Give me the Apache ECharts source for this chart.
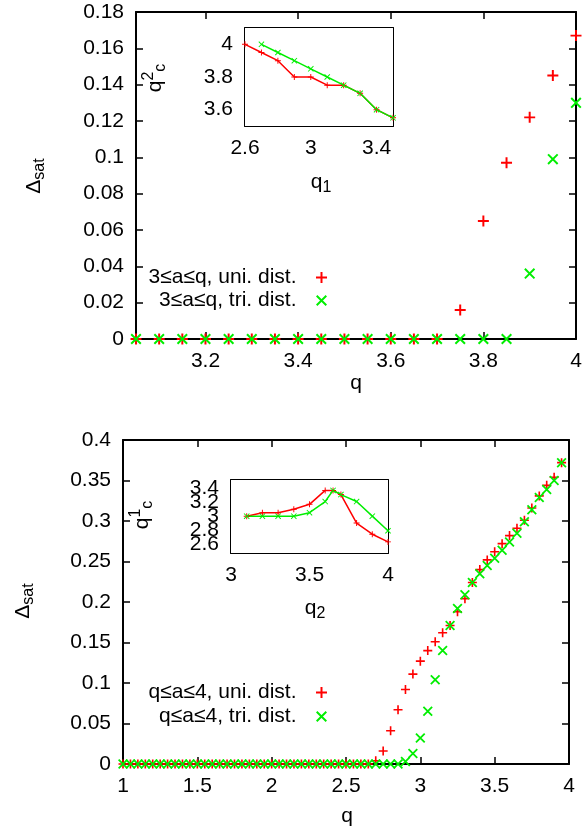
<!DOCTYPE html>
<html>
<head>
<meta charset="utf-8">
<script src="https://cdn.jsdelivr.net/npm/echarts@6/dist/echarts.min.js"></script>
<style>
html, body { margin: 0; padding: 0; background: #fff; }
#main { width: 582px; height: 835px; }
</style>
</head>
<body>
<div id="main"></div>
<script>
// top panel: 3<=a<=q
var qTop = [3.05, 3.10, 3.15, 3.20, 3.25, 3.30, 3.35, 3.40, 3.45, 3.50,
            3.55, 3.60, 3.65, 3.70, 3.75, 3.80, 3.85, 3.90, 3.95, 4.00];
var topUni = [0, 0, 0, 0, 0, 0, 0, 0, 0, 0,
              0, 0, 0, 0, 0.016, 0.065, 0.097, 0.122, 0.145, 0.167];
var topTri = [0, 0, 0, 0, 0, 0, 0, 0, 0, 0,
              0, 0, 0, 0, 0, 0, 0, 0.036, 0.099, 0.130];

// top inset: q_c^2 vs q_1
var q1Uni = [2.6, 2.7, 2.8, 2.9, 3.0, 3.1, 3.2, 3.3, 3.4, 3.5];
var qc2Uni = [4.0, 3.95, 3.9, 3.8, 3.8, 3.75, 3.75, 3.7, 3.6, 3.55];
var q1Tri = [2.7, 2.8, 2.9, 3.0, 3.1, 3.2, 3.3, 3.4, 3.5];
var qc2Tri = [4.0, 3.95, 3.9, 3.85, 3.8, 3.75, 3.7, 3.6, 3.55];

// bottom panel: q<=a<=4
var qBot = [1.00, 1.05, 1.10, 1.15, 1.20, 1.25, 1.30, 1.35, 1.40, 1.45,
            1.50, 1.55, 1.60, 1.65, 1.70, 1.75, 1.80, 1.85, 1.90, 1.95,
            2.00, 2.05, 2.10, 2.15, 2.20, 2.25, 2.30, 2.35, 2.40, 2.45,
            2.50, 2.55, 2.60, 2.65, 2.70, 2.75, 2.80, 2.85, 2.90, 2.95,
            3.00, 3.05, 3.10, 3.15, 3.20, 3.25, 3.30, 3.35, 3.40, 3.45,
            3.50, 3.55, 3.60, 3.65, 3.70, 3.75, 3.80, 3.85, 3.90, 3.95];
var botUni = [0, 0, 0, 0, 0, 0, 0, 0, 0, 0,
              0, 0, 0, 0, 0, 0, 0, 0, 0, 0,
              0, 0, 0, 0, 0, 0, 0, 0, 0, 0,
              0, 0, 0, 0, 0.004, 0.016, 0.041, 0.067, 0.092, 0.111,
              0.127, 0.140, 0.151, 0.162, 0.171, 0.188, 0.204, 0.224, 0.240, 0.252,
              0.262, 0.272, 0.282, 0.291, 0.301, 0.316, 0.331, 0.344, 0.354, 0.372];
var botTri = [0, 0, 0, 0, 0, 0, 0, 0, 0, 0,
              0, 0, 0, 0, 0, 0, 0, 0, 0, 0,
              0, 0, 0, 0, 0, 0, 0, 0, 0, 0,
              0, 0, 0, 0, 0, 0, 0, 0, 0.003, 0.013,
              0.032, 0.065, 0.104, 0.140, 0.171, 0.192, 0.209, 0.224, 0.235, 0.245,
              0.254, 0.264, 0.274, 0.285, 0.299, 0.314, 0.329, 0.339, 0.350, 0.372];

// bottom inset: q_c^1 vs q_2
var q2Uni = [3.1, 3.2, 3.3, 3.4, 3.5, 3.6, 3.65, 3.7, 3.8, 3.9, 4.0];
var qc1Uni = [3.0, 3.05, 3.05, 3.1, 3.17, 3.37, 3.37, 3.31, 2.9, 2.74, 2.63];
var q2Tri = [3.1, 3.2, 3.3, 3.4, 3.5, 3.6, 3.65, 3.7, 3.8, 3.9, 4.0];
var qc1Tri = [3.0, 3.0, 3.0, 3.0, 3.05, 3.21, 3.37, 3.31, 3.21, 3.0, 2.79];

// tick labels
var topXTicks = [3.2, 3.4, 3.6, 3.8, 4];
var topYTicks = [0, 0.02, 0.04, 0.06, 0.08, 0.1, 0.12, 0.14, 0.16, 0.18];
var in1XTicks = [2.6, 3, 3.4];
var in1YTicks = [3.6, 3.8, 4];
var botXTicks = [1, 1.5, 2, 2.5, 3, 3.5, 4];
var botYTicks = [0, 0.05, 0.1, 0.15, 0.2, 0.25, 0.3, 0.35, 0.4];
var in2XTicks = [3, 3.5, 4];
var in2YTicks = [2.6, 2.8, 3, 3.2, 3.4];
// the inset's labels overlap each other, so they are split over two axes
var in2YLabelsA = [2.6, 3, 3.4];
var in2YLabelsB = [2.8, 3.2];

var legTop = ['3≤a≤q, uni. dist.', '3≤a≤q, tri. dist.'];
var legBot = ['q≤a≤4, uni. dist.', 'q≤a≤4, tri. dist.'];

var FONT = 'Liberation Sans';
var FS = 21;
var RED = '#ff0000';
var GREEN = '#00ee00';
var PLUS = 'path://M4.1,0H5.9V4.1H10V5.9H5.9V10H4.1V5.9H0V4.1H4.1Z';
var CROSS = 'path://M0,1.27L1.27,0L10,8.73L8.73,10Z M8.73,0L10,1.27L1.27,10L0,8.73Z';
var PLUS_S = 'path://M4.2,0H5.8V4.2H10V5.8H5.8V10H4.2V5.8H0V4.2H4.2Z';
var CROSS_S = 'path://M0,1.1L1.1,0L10,8.9L8.9,10Z M8.9,0L10,1.1L1.1,10L0,8.9Z';

function pairs(xs, ys) {
    return xs.map(function (x, i) { return [x, ys[i]]; });
}

function axis(grid, pos, min, max, ticks, showLabel, len, labels) {
    return {
        type: 'value', gridIndex: grid, position: pos, min: min, max: max,
        splitLine: { show: false },
        axisLine: { show: true, onZero: false, lineStyle: { color: '#000', width: 2 } },
        axisTick: { show: true, inside: true, length: len, customValues: ticks,
                    lineStyle: { color: '#000', width: 1.5 } },
        axisLabel: { show: showLabel, customValues: labels || ticks, margin: 12, interval: 0,
                     showMinLabel: true, showMaxLabel: true, hideOverlap: false,
                     color: '#000', fontSize: FS, fontFamily: FONT }
    };
}

function label(x, y, text, rot) {
    return {
        type: 'text', x: x, y: y, rotation: rot ? Math.PI / 2 : 0, z: 100,
        style: {
            text: text, align: 'center', verticalAlign: 'middle',
            fill: '#000', fontSize: FS, fontFamily: FONT,
            rich: {
                m: { fontSize: FS, fontFamily: FONT, fill: '#000' },
                sub: { fontSize: 16, fontFamily: FONT, fill: '#000', padding: [12, 0, 0, 0] },
                sup: { fontSize: 16, fontFamily: FONT, fill: '#000', padding: [0, 0, 12, 0] }
            }
        }
    };
}

function legend(names, top, gap) {
    return {
        orient: 'vertical', align: 'right', right: 255, top: top, padding: 0,
        itemWidth: 40, itemHeight: 11, itemGap: gap, selectedMode: false,
        textStyle: { color: '#000', fontSize: FS, fontFamily: FONT },
        data: [{ name: names[0], icon: PLUS }, { name: names[1], icon: CROSS }]
    };
}

function dots(name, xi, yi, sym, size, color, data) {
    return { name: name, type: 'scatter', xAxisIndex: xi, yAxisIndex: yi,
             symbol: sym, symbolSize: size, itemStyle: { color: color, opacity: 1 },
             emphasis: { disabled: true }, data: data };
}

function curve(name, xi, yi, sym, color, data) {
    return { name: name, type: 'line', xAxisIndex: xi, yAxisIndex: yi, z: 5,
             symbol: sym, symbolSize: 6, itemStyle: { color: color, opacity: 1 },
             emphasis: { disabled: true },
             lineStyle: { color: color, width: 1.5 }, data: data };
}

var grids = [
    { left: 136, top: 12, width: 440, height: 327 },
    { left: 245, top: 28, width: 148, height: 98 },
    { left: 123, top: 440, width: 446, height: 324 },
    { left: 231, top: 480, width: 157, height: 73 }
];
grids.forEach(function (g, i) {
    g.outerBoundsMode = 'none';
    g.containLabel = false;
    if (i === 1 || i === 3) {
        g.show = true; g.backgroundColor = '#fff'; g.borderWidth = 0; g.z = 3;
    }
});

var in2YExtra = axis(3, 'left', 2.47, 3.52, in2YTicks, true, 5, in2YLabelsB);
in2YExtra.axisLine.show = false;
in2YExtra.axisTick.show = false;

var chart = echarts.init(document.getElementById('main'));
var option = {
    animation: false,
    backgroundColor: '#fff',
    grid: grids,
    legend: [legend(legTop, 267, 2), legend(legBot, 682, 3)],
    xAxis: [
        axis(0, 'bottom', 3.05, 4, topXTicks, true, 7),
        axis(0, 'top', 3.05, 4, topXTicks, false, 7),
        axis(1, 'bottom', 2.6, 3.5, in1XTicks, true, 5),
        axis(1, 'top', 2.6, 3.5, in1XTicks, false, 5),
        axis(2, 'bottom', 1, 4, botXTicks, true, 7),
        axis(2, 'top', 1, 4, botXTicks, false, 7),
        axis(3, 'bottom', 3, 4, in2XTicks, true, 5),
        axis(3, 'top', 3, 4, in2XTicks, false, 5)
    ],
    yAxis: [
        axis(0, 'left', 0, 0.18, topYTicks, true, 7),
        axis(0, 'right', 0, 0.18, topYTicks, false, 7),
        axis(1, 'left', 3.5, 4.1, in1YTicks, true, 5),
        axis(1, 'right', 3.5, 4.1, in1YTicks, false, 5),
        axis(2, 'left', 0, 0.4, botYTicks, true, 7),
        axis(2, 'right', 0, 0.4, botYTicks, false, 7),
        axis(3, 'left', 2.47, 3.52, in2YTicks, true, 5, in2YLabelsA),
        axis(3, 'right', 2.47, 3.52, in2YTicks, false, 5),
        in2YExtra
    ],
    series: [
        dots(legTop[0], 0, 0, PLUS, 11, RED, pairs(qTop, topUni)),
        dots(legTop[1], 0, 0, CROSS, 11, GREEN, pairs(qTop, topTri)),
        curve('in1uni', 2, 2, PLUS_S, RED, pairs(q1Uni, qc2Uni)),
        curve('in1tri', 2, 2, CROSS_S, GREEN, pairs(q1Tri, qc2Tri)),
        dots(legBot[0], 4, 4, PLUS, 9, RED, pairs(qBot, botUni)),
        dots(legBot[1], 4, 4, CROSS, 10, GREEN, pairs(qBot, botTri)),
        curve('in2uni', 6, 6, PLUS_S, RED, pairs(q2Uni, qc1Uni)),
        curve('in2tri', 6, 6, CROSS_S, GREEN, pairs(q2Tri, qc1Tri))
    ],
    graphic: [
        label(34, 176, '{m|Δ}{sub|sat}', true),
        label(356, 383, '{m|q}', false),
        label(155, 78, '{m|q}{sup|2}{sub|c}', true),
        label(321, 182, '{m|q}{sub|1}', false),
        label(23, 601, '{m|Δ}{sub|sat}', true),
        label(347, 816, '{m|q}', false),
        label(142, 515, '{m|q}{sup|1}{sub|c}', true),
        label(315, 608, '{m|q}{sub|2}', false)
    ]
};
chart.setOption(option);
</script>
</body>
</html>
